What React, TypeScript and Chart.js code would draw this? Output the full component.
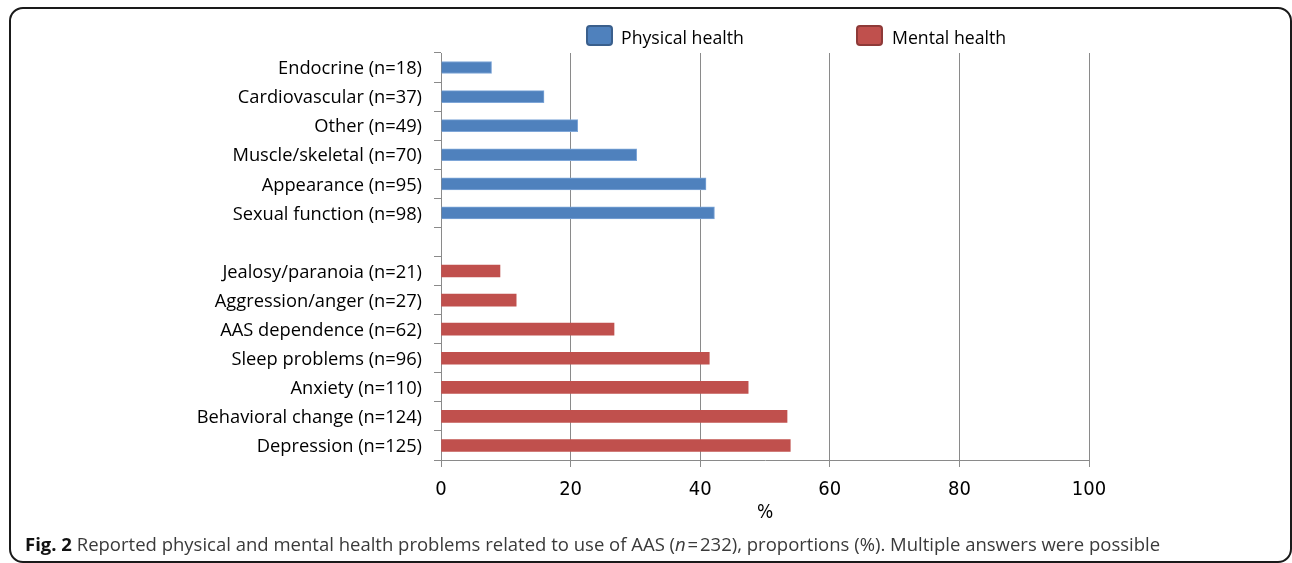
import React, { useEffect, useRef } from "react";
import { Chart, registerables } from "chart.js";

Chart.register(...registerables);

const categories: string[] = [
  "Endocrine (n=18)",
  "Cardiovascular (n=37)",
  "Other (n=49)",
  "Muscle/skeletal (n=70)",
  "Appearance (n=95)",
  "Sexual function (n=98)",
  "",
  "Jealosy/paranoia (n=21)",
  "Aggression/anger (n=27)",
  "AAS dependence (n=62)",
  "Sleep problems (n=96)",
  "Anxiety (n=110)",
  "Behavioral change (n=124)",
  "Depression (n=125)",
];

const physicalHealth: (number | null)[] = [7.8, 15.9, 21.1, 30.2, 40.9, 42.2, null, null, null, null, null, null, null, null];
const mentalHealth: (number | null)[] = [null, null, null, null, null, null, null, 9.1, 11.6, 26.7, 41.4, 47.4, 53.4, 53.9];

const seriesNames = ["Physical health", "Mental health"];
const xTicks = [0, 20, 40, 60, 80, 100];

const BLUE = "#4F81BD";
const BLUE_EDGE = "#7EA6D8";
const RED = "#C0504D";
const RED_EDGE = "#C0504D";
const GRID = "#8A8A8A";

export default function App() {
  const ref = useRef<HTMLCanvasElement | null>(null);

  useEffect(() => {
    if (!ref.current) return;
    const chart = new Chart(ref.current, {
      type: "bar",
      data: {
        labels: categories,
        datasets: [
          {
            label: seriesNames[0],
            data: physicalHealth,
            backgroundColor: BLUE,
            borderColor: BLUE_EDGE,
            borderWidth: 1,
            barThickness: 12,
            grouped: false,
          },
          {
            label: seriesNames[1],
            data: mentalHealth,
            backgroundColor: RED,
            borderColor: RED_EDGE,
            borderWidth: 0,
            barThickness: 12,
            grouped: false,
          },
        ],
      } as any,
      options: {
        indexAxis: "y",
        animation: false,
        responsive: false,
        maintainAspectRatio: false,
        layout: { padding: { top: 53, right: 203, bottom: 0, left: 0 } },
        plugins: {
          legend: { display: false },
          tooltip: { enabled: false },
        },
        scales: {
          y: {
            type: "category",
            grid: {
              offset: true,
              drawOnChartArea: false,
              drawTicks: true,
              tickLength: 7,
              color: GRID,
            },
            border: { color: GRID, width: 1 },
            ticks: {
              color: "#000",
              padding: 12,
              labelOffset: 1.5,
              font: { family: "'Open Sans'", size: 18.3 },
            },
            afterFit: (s: any) => {
              s.width = 441;
            },
          },
          x: {
            type: "linear",
            min: 0,
            max: 100,
            afterBuildTicks: (s: any) => {
              s.ticks = xTicks.map((v) => ({ value: v }));
            },
            grid: { color: GRID, tickLength: 7, drawTicks: true },
            border: { color: GRID, width: 1 },
            ticks: {
              color: "#000",
              padding: 11,
              font: { family: "'Liberation Sans Narrow', 'DejaVu Sans Condensed', sans-serif", size: 20 },
            },
            title: {
              display: true,
              text: "%",
              color: "#000",
              padding: { top: 0, bottom: 6 },
              font: { family: "'Liberation Sans Narrow', 'DejaVu Sans Condensed', sans-serif", size: 19 },
            },
            afterFit: (s: any) => {
              s.height = 70;
            },
          },
        },
      } as any,
    });
    return () => chart.destroy();
  }, []);

  const legendText: React.CSSProperties = {
    position: "fixed",
    top: 25,
    fontFamily: "'Open Sans'",
    fontSize: 17.7,
    lineHeight: "24px",
    color: "#000",
    whiteSpace: "nowrap",
  };
  const box = (left: number, fill: string, edge: string): React.CSSProperties => ({
    position: "fixed",
    left,
    top: 25,
    width: 27,
    height: 21,
    boxSizing: "border-box",
    background: fill,
    border: `2px solid ${edge}`,
    borderRadius: 4,
  });

  return (
    <div>
      <div
        style={{
          position: "fixed",
          left: 9,
          top: 7,
          width: 1283,
          height: 556,
          boxSizing: "border-box",
          border: "2px solid #1a1a1a",
          borderRadius: 14,
        }}
      />
      <canvas
        ref={ref}
        width={1292}
        height={530}
        style={{ position: "fixed", left: 0, top: 0, width: 1292, height: 530 }}
      />
      <div style={box(586, BLUE, "#3A5F8C")} />
      <div style={{ ...legendText, left: 621 }}>{seriesNames[0]}</div>
      <div style={box(856, RED, "#8E3A38")} />
      <div style={{ ...legendText, left: 892 }}>{seriesNames[1]}</div>
      <div
        style={{
          position: "fixed",
          left: 25,
          top: 532,
          fontFamily: "'Open Sans'",
          fontSize: 18.5,
          lineHeight: "24px",
          color: "#3a3a3a",
          whiteSpace: "nowrap",
        }}
      >
        <b style={{ color: "#111" }}>Fig. 2</b> Reported physical and mental health problems related to use of AAS (
        <i>n</i>&#8202;=&#8202;232), proportions (%). Multiple answers were possible
      </div>
    </div>
  );
}
